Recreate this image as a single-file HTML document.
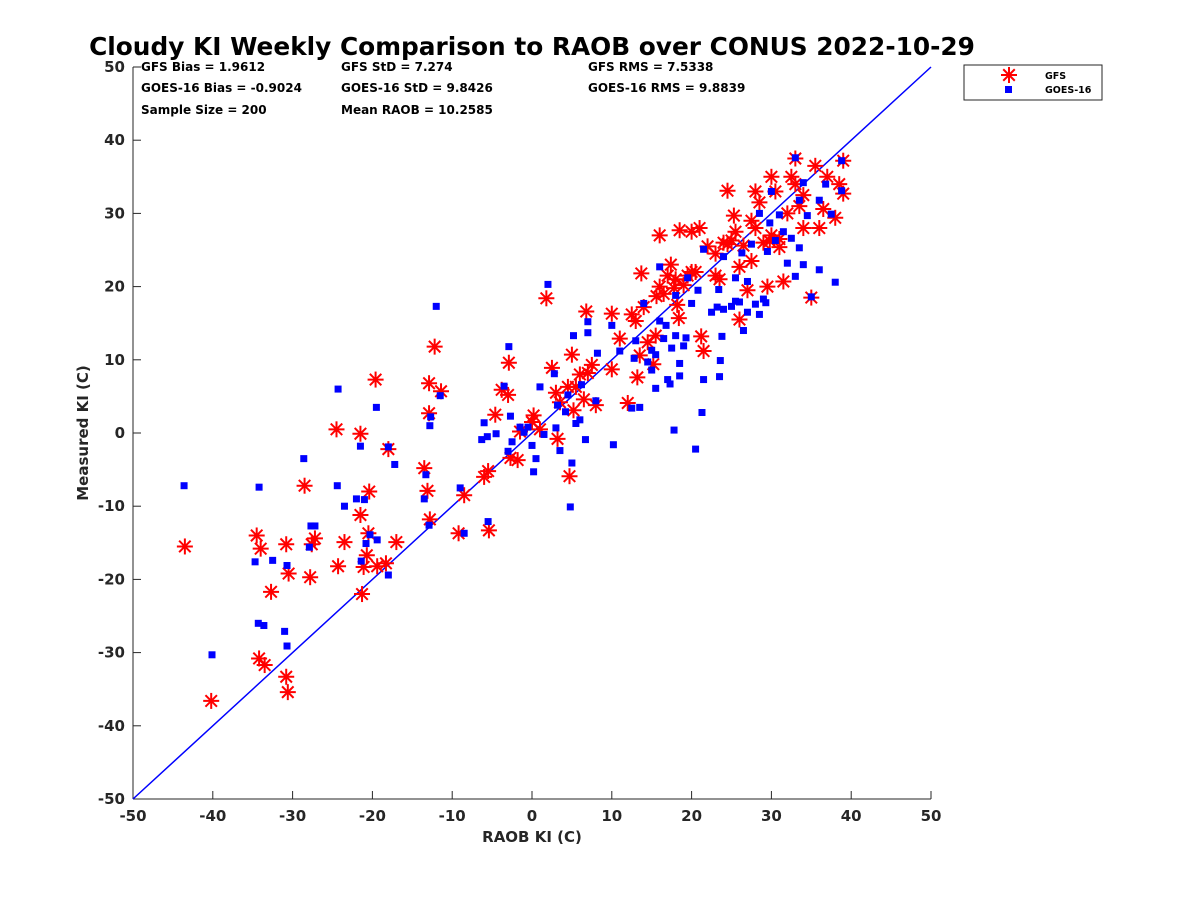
<!DOCTYPE html>
<html><head><meta charset="utf-8"><style>
body{margin:0;background:#fff;}
svg text{font-family:"DejaVu Sans","Liberation Sans",sans-serif;font-weight:bold;}
</style></head><body>
<svg id="chart" width="1200" height="900" xmlns="http://www.w3.org/2000/svg">
<rect width="1200" height="900" fill="#fff"/>
<text x="532" y="55" font-size="24.8" text-anchor="middle" fill="#000">Cloudy KI Weekly Comparison to RAOB over CONUS 2022-10-29</text>
<g font-size="12" fill="#000">
<text x="141" y="71">GFS Bias = 1.9612</text>
<text x="141" y="92">GOES-16 Bias = -0.9024</text>
<text x="141" y="114">Sample Size = 200</text>
<text x="341" y="71">GFS StD = 7.274</text>
<text x="341" y="92">GOES-16 StD = 9.8426</text>
<text x="341" y="114">Mean RAOB = 10.2585</text>
<text x="588" y="71">GFS RMS = 7.5338</text>
<text x="588" y="92">GOES-16 RMS = 9.8839</text>
</g>
<g id="axes"></g>
<g id="marks"></g>
<text x="532" y="842" font-size="15" text-anchor="middle" fill="#262626">RAOB KI (C)</text>
<text transform="translate(88,433) rotate(-90)" font-size="15" text-anchor="middle" fill="#262626">Measured KI (C)</text>
<g>
<rect x="964" y="65" width="138" height="35" fill="#fff" stroke="#262626" stroke-width="1"/>
<g id="legmarks"></g>
<text x="1045" y="79" font-size="9.5" fill="#000">GFS</text>
<text x="1045" y="93" font-size="9.5" fill="#000">GOES-16</text>
</g>
</svg>
<script>
const ticks=[-50,-40,-30,-20,-10,0,10,20,30,40,50];
const gfsX=[-43.5,-40.2,-34.5,-34,-34.2,-33.5,-32.7,-30.8,-30.5,-30.8,-30.6,-28.5,-27.8,-27.6,-27.2,-24.5,-24.3,-23.5,-21.5,-21.5,-21.3,-21.1,-20.7,-20.5,-20.4,-19.6,-19.4,-18.3,-18,-17,-13.5,-13.1,-12.9,-12.9,-12.8,-12.2,-11.4,-9.2,-8.5,-6,-5.5,-5.4,-4.6,-3.8,-3,-2.9,-2.7,-1.8,-1.5,0,0.2,1,1.8,2.5,3,3.2,3.5,4.5,4.7,5,5.2,5.5,6,6.5,6.8,7,7.5,8,10,10,11,12,12.5,13,13.2,13.5,13.7,14,14.5,15.2,15.5,15.6,16,16,16.5,17,17.4,17.8,18,18.2,18.4,18.5,19,19.5,20,20,20.5,21,21.2,21.5,22,23,23.5,24,24.5,25,25.3,25.5,26,26,26.5,27,27.5,28,28,28.5,29,29.5,30,30,30.5,31,31.5,32,32.5,33,33,33.5,34,34,35,35.5,36,36.5,37,38,38.5,39,39,23,24.5,27.5,29.8,31];
const gfsY=[-15.5,-36.6,-14,-15.8,-30.8,-31.7,-21.7,-15.2,-19.2,-33.3,-35.4,-7.2,-19.7,-15.2,-14.4,0.5,-18.2,-14.9,-11.2,-0.1,-22,-18.3,-16.7,-13.7,-8,7.3,-18.2,-17.8,-2.2,-14.9,-4.8,-7.9,6.8,2.7,-11.8,11.8,5.7,-13.7,-8.5,-6,-5.2,-13.3,2.5,5.9,5.2,9.6,-3.4,-3.7,0.2,1.5,2.4,0.5,18.4,8.9,5.5,-0.8,4.2,6.3,-5.9,10.7,3.1,6.3,8,4.6,16.6,8.2,9.3,3.8,8.7,16.3,12.9,4.1,16.2,15.3,7.6,10.6,21.8,17.2,12.4,9.4,13.3,18.7,27,20,19,21.5,23,19.8,21,17.5,15.7,27.7,20.2,21.5,22,27.5,22,28,13.2,11.2,25.5,24.5,21,26,33.1,26.3,29.7,27.5,22.7,15.5,25.6,19.5,23.5,28,33,31.5,26,20,35,27,33,26.5,20.7,30,35,37.5,34,31,32.5,28,18.5,36.5,28,30.6,35,29.4,34,37.2,32.7,21.5,25.8,29,26.2,25.4];
const goesX=[-43.6,-40.1,-34.7,-34.2,-34.3,-33.6,-32.5,-31,-30.7,-30.7,-28.6,-27.9,-27.7,-27.2,-24.3,-24.4,-23.5,-22,-21.5,-21.4,-21,-20.8,-20.3,-19.5,-19.4,-18,-18,-17.2,-13.5,-13.3,-12.8,-12.7,-12.9,-12,-11.5,-9,-8.5,-6.3,-6,-5.5,-5.6,-4.5,-3.5,-3,-2.9,-2.7,-2.5,-1.5,-1,-0.5,0,0.2,0.5,1,1.5,2,2.8,3,3.2,3.5,4.2,4.5,4.8,5,5.2,5.5,6,6.2,6.7,7,7,8,8.2,10,10.2,11,12.5,12.8,13,13.5,14,14.5,15,15,15.5,15.5,16,16,16.5,16.8,17,17.3,17.5,17.8,18,18,18.5,18.5,19,19.3,19.5,20,20.5,20.8,21.3,21.5,21.5,22.5,23.2,23.4,23.5,23.6,23.8,24,24,25,25.5,25.5,26,26.3,26.5,27,27,27.5,28,28.5,28.5,29,29.3,29.5,29.8,30,30.5,31,31.5,32,32.5,33,33,33.5,33.5,34,34,34.5,35,36,36,36.8,37.5,38,38.8,38.8];
const goesY=[-7.2,-30.3,-17.6,-7.4,-26,-26.3,-17.4,-27.1,-18.1,-29.1,-3.5,-15.6,-12.7,-12.7,6,-7.2,-10,-9,-1.8,-17.5,-9.1,-15.1,-13.9,3.5,-14.6,-19.4,-1.9,-4.3,-9,-5.7,1,2.2,-12.6,17.3,5.1,-7.5,-13.7,-0.9,1.4,-12.1,-0.5,-0.1,6.4,-2.5,11.8,2.3,-1.2,0.8,0.1,0.8,-1.7,-5.3,-3.5,6.3,-0.2,20.3,8.1,0.7,3.8,-2.4,2.9,5.2,-10.1,-4.1,13.3,1.3,1.8,6.6,-0.9,13.7,15.2,4.4,10.9,14.7,-1.6,11.2,3.4,10.2,12.6,3.5,17.7,9.7,8.6,11.3,6.1,10.7,15.3,22.7,12.9,14.7,7.3,6.7,11.6,0.4,13.3,18.8,9.5,7.8,11.9,13,21.2,17.7,-2.2,19.5,2.8,7.3,25.1,16.5,17.2,19.6,7.7,9.9,13.2,24.1,16.9,17.3,21.2,18,17.9,24.6,14,16.5,20.7,25.8,17.6,30,16.2,18.3,17.8,24.8,28.7,33,26.3,29.8,27.5,23.2,26.6,21.4,37.6,25.3,31.8,23,34.2,29.7,18.6,22.3,31.8,34,29.9,20.6,37.2,33.1];

const NS='http://www.w3.org/2000/svg';
const X0=133,X1=931,Y0=799,Y1=67;
function sx(v){return X0+(v+50)/100*(X1-X0);}
function sy(v){return Y0-(v+50)/100*(Y0-Y1);}
function mk(tag,attrs,parent){const e=document.createElementNS(NS,tag);for(const k in attrs)e.setAttribute(k,attrs[k]);parent.appendChild(e);return e;}
const axes=document.getElementById('axes'),marks=document.getElementById('marks');
let xl=mk('line',{x1:X0,y1:Y0,x2:X1,y2:Y0,stroke:'#262626','stroke-width':1},axes);


let yl=mk('line',{x1:X0,y1:Y0,x2:X0,y2:Y1,stroke:'#262626','stroke-width':1},axes);


ticks.forEach(t=>{
  mk('line',{x1:sx(t),y1:Y0,x2:sx(t),y2:Y0-8,stroke:'#262626'},axes);
  mk('line',{x1:X0,y1:sy(t),x2:X0+8,y2:sy(t),stroke:'#262626'},axes);
  let a=mk('text',{x:sx(t),y:Y0+22,'font-size':15,'text-anchor':'middle',fill:'#262626'},axes);a.textContent=t;
  
  
  let b=mk('text',{x:X0-8,y:sy(t)+5,'font-size':15,'text-anchor':'end',fill:'#262626'},axes);b.textContent=t;
  
  
});
let ref=mk('line',{x1:sx(-50),y1:sy(-50),x2:sx(50),y2:sy(50),stroke:'#0000ff','stroke-width':1.5},marks);


function star(cx,cy,parent){
  const g=mk('g',{stroke:'#ff0000','stroke-width':2},parent);
  const r=8;
  mk('line',{x1:cx-r,y1:cy,x2:cx+r,y2:cy},g);
  mk('line',{x1:cx,y1:cy-r,x2:cx,y2:cy+r},g);
  const d=r*0.72;
  mk('line',{x1:cx-d,y1:cy-d,x2:cx+d,y2:cy+d},g);
  mk('line',{x1:cx-d,y1:cy+d,x2:cx+d,y2:cy-d},g);
  return g;
}
gfsX.forEach((x,i)=>{
  const g=star(sx(x),sy(gfsY[i]),marks);
  
  
});
goesX.forEach((x,i)=>{
  const r=mk('rect',{x:sx(x)-3.5,y:sy(goesY[i])-3.5,width:7,height:7,fill:'#0000ff'},marks);
  
  
});
const lm=document.getElementById('legmarks');
star(1009,75,lm);
mk('rect',{x:1005,y:86,width:7,height:7,fill:'#0000ff'},lm);
</script>
</body></html>
